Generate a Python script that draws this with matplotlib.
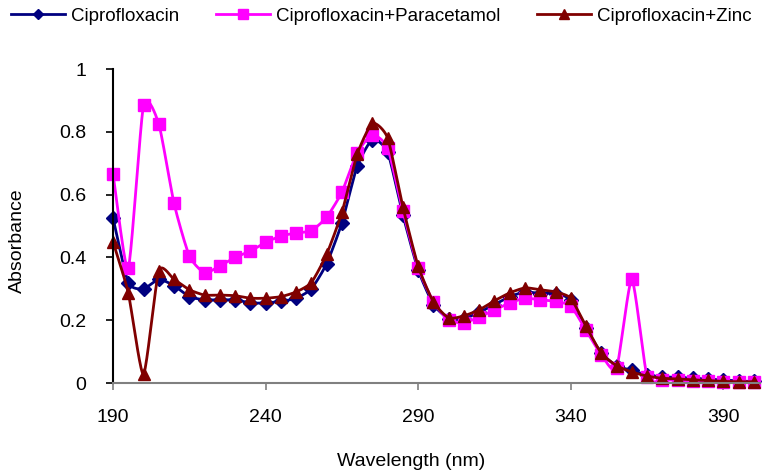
import numpy as np
import matplotlib
matplotlib.use("Agg")
import matplotlib.pyplot as plt
from matplotlib.lines import Line2D

plt.rcParams['font.family'] = ['Liberation Sans', 'DejaVu Sans']

# wavelength (nm), every 5 nm
wl = list(range(190, 405, 5))

cipro = [0.525, 0.32, 0.30, 0.33, 0.31, 0.275, 0.265, 0.265, 0.265, 0.255,
         0.255, 0.26, 0.27, 0.30, 0.38, 0.51, 0.69, 0.775, 0.735, 0.535,
         0.36, 0.25, 0.205, 0.205, 0.225, 0.25, 0.275, 0.29, 0.285, 0.285,
         0.265, 0.175, 0.095, 0.055, 0.04, 0.025, 0.02, 0.018, 0.015, 0.012,
         0.01, 0.006, 0.005]

cipro_para = [0.665, 0.365, 0.885, 0.825, 0.572, 0.405, 0.351, 0.373, 0.40, 0.42,
              0.448, 0.468, 0.478, 0.485, 0.528, 0.608, 0.733, 0.79, 0.748, 0.547,
              0.367, 0.258, 0.20, 0.192, 0.21, 0.233, 0.255, 0.27, 0.265, 0.26,
              0.245, 0.168, 0.09, 0.047, 0.33, 0.02, 0.01, 0.01, 0.006, 0.005,
              0.004, 0.003, 0.003]

cipro_zinc = [0.45, 0.287, 0.028, 0.357, 0.33, 0.297, 0.28, 0.28, 0.278, 0.27,
              0.27, 0.275, 0.29, 0.32, 0.41, 0.543, 0.728, 0.827, 0.78, 0.56,
              0.372, 0.258, 0.207, 0.214, 0.233, 0.262, 0.287, 0.303, 0.297, 0.29,
              0.27, 0.18, 0.095, 0.055, 0.035, 0.022, 0.015, 0.013, 0.01, 0.008,
              0.005, 0.004, 0.004]

series = [
    ("Ciprofloxacin", cipro, "#000080", "D", 7),
    ("Ciprofloxacin+Paracetamol", cipro_para, "#FF00FF", "s", 9),
    ("Ciprofloxacin+Zinc", cipro_zinc, "#800000", "^", 9),
]


def smooth(x, y, n=20, k=0.6):
    # hermite curve through the points, tangents = k * catmull-rom (excel-like smoothing)
    x = np.asarray(x, float)
    y = np.asarray(y, float)
    out = []
    t = np.linspace(0, 1, n, endpoint=False)[:, None]
    for p in (x, y):
        m = np.gradient(p) * k
        p0, p1, m0, m1 = p[:-1], p[1:], m[:-1], m[1:]
        h00 = 2 * t ** 3 - 3 * t ** 2 + 1
        h10 = t ** 3 - 2 * t ** 2 + t
        h01 = -2 * t ** 3 + 3 * t ** 2
        h11 = t ** 3 - t ** 2
        c = h00 * p0 + h10 * m0 + h01 * p1 + h11 * m1
        out.append(np.append(c.T.ravel(), p[-1]))
    return out[0], out[1]


fig = plt.figure(figsize=(7.62, 4.76), dpi=100)
ax = fig.add_axes([113 / 762, 93 / 476, 647 / 762, 314 / 476])

handles = []
for name, vals, col, mk, ms in series:
    sx, sy = smooth(wl, vals)
    ax.plot(sx, sy, color=col, lw=2, clip_on=False)
    ax.plot(wl, vals, ls="none", marker=mk, ms=ms, color=col, mec=col, clip_on=False)
    handles.append(Line2D([], [], color=col, lw=2, marker=mk, ms=ms * 0.8, mec=col))

ax.set_xlim(190, 402)
ax.set_ylim(0, 1)
ax.set_xticks(range(190, 400, 50))
ax.set_yticks(np.arange(0, 1.01, 0.2))
ax.yaxis.set_major_formatter(plt.FuncFormatter(lambda v, p: f"{v:g}"))

for s in ["top", "right"]:
    ax.spines[s].set_visible(False)
ax.spines["left"].set_color("black")
ax.spines["left"].set_linewidth(1.5)
ax.spines["bottom"].set_color("#808080")
ax.spines["bottom"].set_linewidth(1.5)
ax.tick_params(axis="y", direction="out", length=5, width=1.2, pad=14, labelsize=14)
ax.tick_params(axis="x", direction="out", length=5, width=1.2, color="#808080",
               pad=14, labelsize=14)

ax.set_xlabel("Wavelength (nm)", fontsize=14)
ax.set_ylabel("Absorbance", fontsize=14)
ax.xaxis.set_label_coords((411 - 113) / 647, -(462 - 383) / 314)
ax.xaxis.label.set_va("center")
ax.yaxis.set_label_coords((17 - 113) / 647, (383 - 241) / 314)
ax.yaxis.label.set_va("center")

fig.legend(handles, [s[0] for s in series], loc="center left",
           bbox_to_anchor=(11 / 762, 1 - 16 / 476), ncol=3, frameon=False,
           fontsize=13.5, handlelength=2.9, handletextpad=0.32, columnspacing=1.93,
           borderpad=0, borderaxespad=0)

fig.savefig("out.png", dpi=100)
